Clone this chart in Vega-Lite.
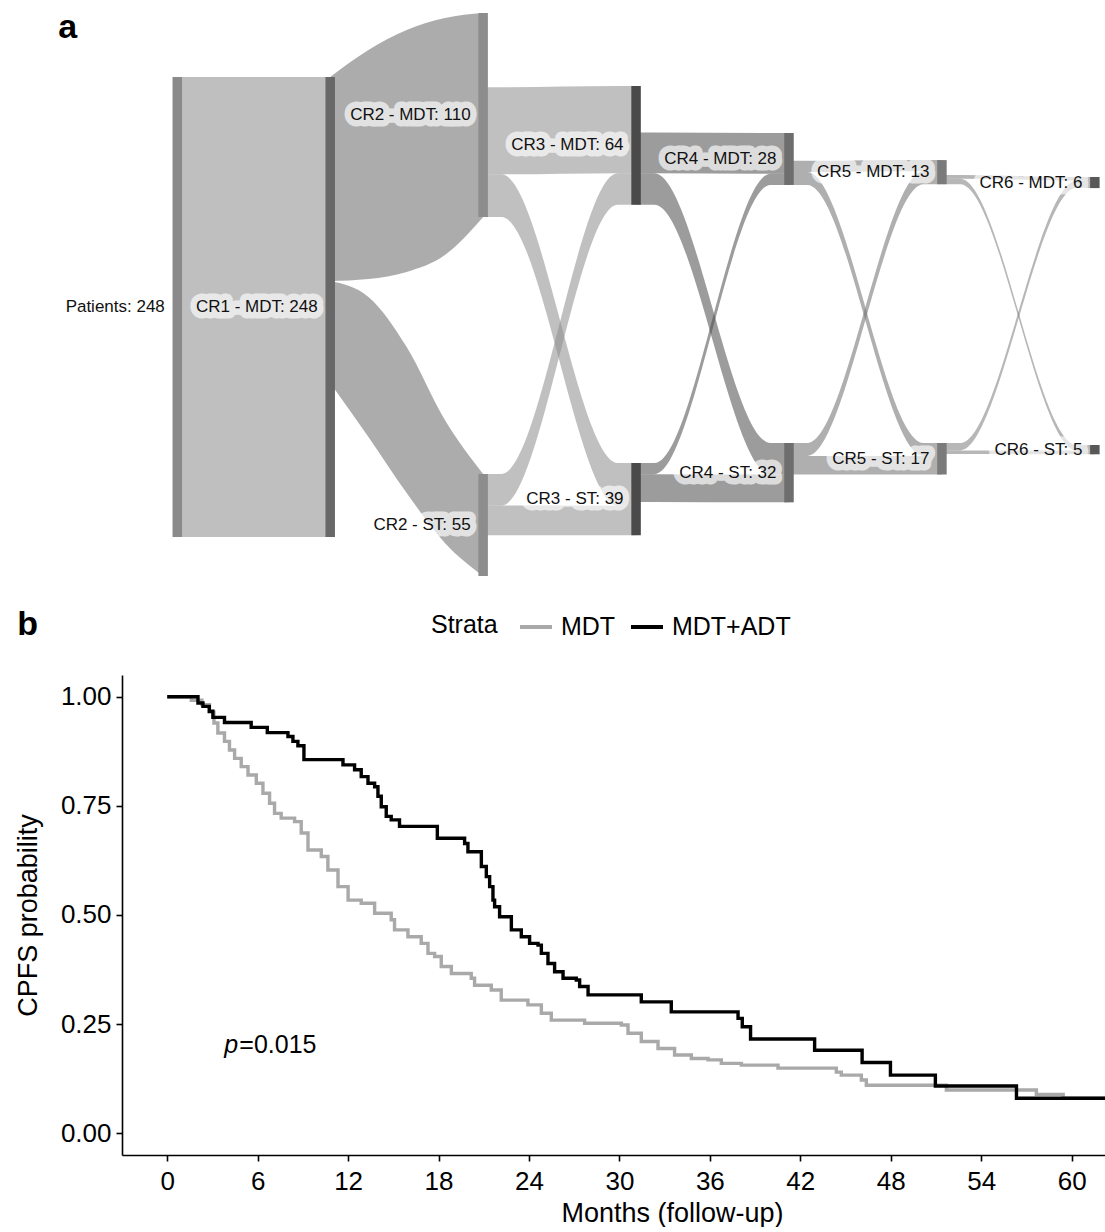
{
"$schema":"https://vega.github.io/schema/vega-lite/v6.json",
"background":"white",
"padding":{"left":14,"top":0,"right":0,"bottom":0},
"bounds":"flush",
"spacing":75,
"resolve":{"scale":{"color":"independent"},"legend":{"color":"independent"}},
"config":{"view":{"stroke":null},"font":"Liberation Sans"},
"datasets":{
"nodes":[
{"node":"Patients","stg":"Patients","stage":0,"top":41.5,"bottom":289.5,"mid":165.5,"label":"Patients: 248"},
{"node":"CR1 - MDT","stg":"CR1","stage":1,"top":41.5,"bottom":289.5,"mid":165.5,"label":"CR1 - MDT: 248"},
{"node":"CR2 - MDT","stg":"CR2","stage":2,"top":7.0,"bottom":117.0,"mid":62.0,"label":"CR2 - MDT: 110"},
{"node":"CR2 - ST","stg":"CR2","stage":2,"top":255.5,"bottom":310.5,"mid":283.0,"label":"CR2 - ST: 55"},
{"node":"CR3 - MDT","stg":"CR3","stage":3,"top":46.4,"bottom":110.4,"mid":78.4,"label":"CR3 - MDT: 64"},
{"node":"CR3 - ST","stg":"CR3","stage":3,"top":249.6,"bottom":288.6,"mid":269.1,"label":"CR3 - ST: 39"},
{"node":"CR4 - MDT","stg":"CR4","stage":4,"top":71.7,"bottom":99.7,"mid":85.7,"label":"CR4 - MDT: 28"},
{"node":"CR4 - ST","stg":"CR4","stage":4,"top":238.8,"bottom":270.8,"mid":254.8,"label":"CR4 - ST: 32"},
{"node":"CR5 - MDT","stg":"CR5","stage":5,"top":86.3,"bottom":99.3,"mid":92.8,"label":"CR5 - MDT: 13"},
{"node":"CR5 - ST","stg":"CR5","stage":5,"top":238.8,"bottom":255.8,"mid":247.3,"label":"CR5 - ST: 17"},
{"node":"CR6 - MDT","stg":"CR6","stage":6,"top":95.4,"bottom":101.4,"mid":98.4,"label":"CR6 - MDT: 6"},
{"node":"CR6 - ST","stg":"CR6","stage":6,"top":239.9,"bottom":244.9,"mid":242.4,"label":"CR6 - ST: 5"}
],
"flows":[
{"flow":"P>CR1","stg":"Patients","stage":0,"top":41.5,"bottom":289.5},
{"flow":"P>CR1","stg":"Patients","stage":1,"top":41.5,"bottom":289.5},
{"flow":"CR1>CR2MDT","stg":"CR1","stage":1,"top":41.5,"bottom":151.5},
{"flow":"CR1>CR2MDT","stg":"CR1","stage":1.25,"top":27.0,"bottom":150.4},
{"flow":"CR1>CR2MDT","stg":"CR1","stage":1.5,"top":16.2,"bottom":146.6},
{"flow":"CR1>CR2MDT","stg":"CR1","stage":1.75,"top":9.7,"bottom":137.5},
{"flow":"CR1>CR2MDT","stg":"CR1","stage":2,"top":7.0,"bottom":117.0},
{"flow":"CR1>CR2ST","stg":"CR1","stage":1,"top":151.5,"bottom":206.5},
{"flow":"CR1>CR2ST","stg":"CR1","stage":1.25,"top":160.1,"bottom":235.6},
{"flow":"CR1>CR2ST","stg":"CR1","stage":1.5,"top":187.1,"bottom":265.8},
{"flow":"CR1>CR2ST","stg":"CR1","stage":1.75,"top":226.4,"bottom":292.7},
{"flow":"CR1>CR2ST","stg":"CR1","stage":2,"top":255.5,"bottom":310.5},
{"flow":"CR2MDT>CR3MDT","stg":"CR2","stage":2,"top":47.0,"bottom":94.0},
{"flow":"CR2MDT>CR3MDT","stg":"CR2","stage":2.12,"top":47.0,"bottom":94.0},
{"flow":"CR2MDT>CR3MDT","stg":"CR2","stage":2.88,"top":46.4,"bottom":93.4},
{"flow":"CR2MDT>CR3MDT","stg":"CR2","stage":3,"top":46.4,"bottom":93.4},
{"flow":"CR2MDT>CR3ST","stg":"CR2","stage":2,"top":94.0,"bottom":117.0},
{"flow":"CR2MDT>CR3ST","stg":"CR2","stage":2.12,"top":94.0,"bottom":117.0},
{"flow":"CR2MDT>CR3ST","stg":"CR2","stage":2.88,"top":249.6,"bottom":272.6},
{"flow":"CR2MDT>CR3ST","stg":"CR2","stage":3,"top":249.6,"bottom":272.6},
{"flow":"CR2ST>CR3MDT","stg":"CR2","stage":2,"top":255.5,"bottom":272.5},
{"flow":"CR2ST>CR3MDT","stg":"CR2","stage":2.12,"top":255.5,"bottom":272.5},
{"flow":"CR2ST>CR3MDT","stg":"CR2","stage":2.88,"top":93.4,"bottom":110.4},
{"flow":"CR2ST>CR3MDT","stg":"CR2","stage":3,"top":93.4,"bottom":110.4},
{"flow":"CR2ST>CR3ST","stg":"CR2","stage":2,"top":272.5,"bottom":288.5},
{"flow":"CR2ST>CR3ST","stg":"CR2","stage":2.12,"top":272.5,"bottom":288.5},
{"flow":"CR2ST>CR3ST","stg":"CR2","stage":2.88,"top":272.6,"bottom":288.6},
{"flow":"CR2ST>CR3ST","stg":"CR2","stage":3,"top":272.6,"bottom":288.6},
{"flow":"CR3MDT>CR4MDT","stg":"CR3","stage":3,"top":71.4,"bottom":93.4},
{"flow":"CR3MDT>CR4MDT","stg":"CR3","stage":3.12,"top":71.4,"bottom":93.4},
{"flow":"CR3MDT>CR4MDT","stg":"CR3","stage":3.88,"top":71.7,"bottom":93.7},
{"flow":"CR3MDT>CR4MDT","stg":"CR3","stage":4,"top":71.7,"bottom":93.7},
{"flow":"CR3MDT>CR4ST","stg":"CR3","stage":3,"top":93.4,"bottom":110.4},
{"flow":"CR3MDT>CR4ST","stg":"CR3","stage":3.12,"top":93.4,"bottom":110.4},
{"flow":"CR3MDT>CR4ST","stg":"CR3","stage":3.88,"top":238.8,"bottom":255.8},
{"flow":"CR3MDT>CR4ST","stg":"CR3","stage":4,"top":238.8,"bottom":255.8},
{"flow":"CR3ST>CR4MDT","stg":"CR3","stage":3,"top":249.6,"bottom":255.6},
{"flow":"CR3ST>CR4MDT","stg":"CR3","stage":3.12,"top":249.6,"bottom":255.6},
{"flow":"CR3ST>CR4MDT","stg":"CR3","stage":3.88,"top":93.7,"bottom":99.7},
{"flow":"CR3ST>CR4MDT","stg":"CR3","stage":4,"top":93.7,"bottom":99.7},
{"flow":"CR3ST>CR4ST","stg":"CR3","stage":3,"top":255.6,"bottom":270.6},
{"flow":"CR3ST>CR4ST","stg":"CR3","stage":3.12,"top":255.6,"bottom":270.6},
{"flow":"CR3ST>CR4ST","stg":"CR3","stage":3.88,"top":255.8,"bottom":270.8},
{"flow":"CR3ST>CR4ST","stg":"CR3","stage":4,"top":255.8,"bottom":270.8},
{"flow":"CR4MDT>CR5MDT","stg":"CR4","stage":4,"top":86.7,"bottom":92.7},
{"flow":"CR4MDT>CR5MDT","stg":"CR4","stage":4.12,"top":86.7,"bottom":92.7},
{"flow":"CR4MDT>CR5MDT","stg":"CR4","stage":4.88,"top":86.3,"bottom":92.3},
{"flow":"CR4MDT>CR5MDT","stg":"CR4","stage":5,"top":86.3,"bottom":92.3},
{"flow":"CR4MDT>CR5ST","stg":"CR4","stage":4,"top":92.7,"bottom":99.7},
{"flow":"CR4MDT>CR5ST","stg":"CR4","stage":4.12,"top":92.7,"bottom":99.7},
{"flow":"CR4MDT>CR5ST","stg":"CR4","stage":4.88,"top":238.8,"bottom":245.8},
{"flow":"CR4MDT>CR5ST","stg":"CR4","stage":5,"top":238.8,"bottom":245.8},
{"flow":"CR4ST>CR5MDT","stg":"CR4","stage":4,"top":238.8,"bottom":245.8},
{"flow":"CR4ST>CR5MDT","stg":"CR4","stage":4.12,"top":238.8,"bottom":245.8},
{"flow":"CR4ST>CR5MDT","stg":"CR4","stage":4.88,"top":92.3,"bottom":99.3},
{"flow":"CR4ST>CR5MDT","stg":"CR4","stage":5,"top":92.3,"bottom":99.3},
{"flow":"CR4ST>CR5ST","stg":"CR4","stage":4,"top":245.8,"bottom":255.8},
{"flow":"CR4ST>CR5ST","stg":"CR4","stage":4.12,"top":245.8,"bottom":255.8},
{"flow":"CR4ST>CR5ST","stg":"CR4","stage":4.88,"top":245.8,"bottom":255.8},
{"flow":"CR4ST>CR5ST","stg":"CR4","stage":5,"top":245.8,"bottom":255.8},
{"flow":"CR5MDT>CR6MDT","stg":"CR5","stage":5,"top":94.3,"bottom":96.3},
{"flow":"CR5MDT>CR6MDT","stg":"CR5","stage":5.12,"top":94.3,"bottom":96.3},
{"flow":"CR5MDT>CR6MDT","stg":"CR5","stage":5.88,"top":95.4,"bottom":97.4},
{"flow":"CR5MDT>CR6MDT","stg":"CR5","stage":6,"top":95.4,"bottom":97.4},
{"flow":"CR5MDT>CR6ST","stg":"CR5","stage":5,"top":96.3,"bottom":99.3},
{"flow":"CR5MDT>CR6ST","stg":"CR5","stage":5.12,"top":96.3,"bottom":99.3},
{"flow":"CR5MDT>CR6ST","stg":"CR5","stage":5.88,"top":239.9,"bottom":242.9},
{"flow":"CR5MDT>CR6ST","stg":"CR5","stage":6,"top":239.9,"bottom":242.9},
{"flow":"CR5ST>CR6MDT","stg":"CR5","stage":5,"top":238.8,"bottom":242.8},
{"flow":"CR5ST>CR6MDT","stg":"CR5","stage":5.12,"top":238.8,"bottom":242.8},
{"flow":"CR5ST>CR6MDT","stg":"CR5","stage":5.88,"top":97.4,"bottom":101.4},
{"flow":"CR5ST>CR6MDT","stg":"CR5","stage":6,"top":97.4,"bottom":101.4},
{"flow":"CR5ST>CR6ST","stg":"CR5","stage":5,"top":242.8,"bottom":244.8},
{"flow":"CR5ST>CR6ST","stg":"CR5","stage":5.12,"top":242.8,"bottom":244.8},
{"flow":"CR5ST>CR6ST","stg":"CR5","stage":5.88,"top":242.9,"bottom":244.9},
{"flow":"CR5ST>CR6ST","stg":"CR5","stage":6,"top":242.9,"bottom":244.9}
],
"km":[
{"strata":"MDT","month":0,"surv":1.0},
{"strata":"MDT","month":1.6,"surv":0.992},
{"strata":"MDT","month":2.3,"surv":0.982},
{"strata":"MDT","month":2.8,"surv":0.965},
{"strata":"MDT","month":3.1,"surv":0.94},
{"strata":"MDT","month":3.36,"surv":0.917},
{"strata":"MDT","month":3.8,"surv":0.898},
{"strata":"MDT","month":4.13,"surv":0.878},
{"strata":"MDT","month":4.47,"surv":0.859},
{"strata":"MDT","month":4.91,"surv":0.84},
{"strata":"MDT","month":5.36,"surv":0.821},
{"strata":"MDT","month":5.91,"surv":0.802},
{"strata":"MDT","month":6.35,"surv":0.779},
{"strata":"MDT","month":6.79,"surv":0.756},
{"strata":"MDT","month":7.12,"surv":0.733},
{"strata":"MDT","month":7.56,"surv":0.722},
{"strata":"MDT","month":8.45,"surv":0.714},
{"strata":"MDT","month":8.89,"surv":0.688},
{"strata":"MDT","month":9.34,"surv":0.649},
{"strata":"MDT","month":10.22,"surv":0.634},
{"strata":"MDT","month":10.66,"surv":0.603},
{"strata":"MDT","month":11.33,"surv":0.565},
{"strata":"MDT","month":12.0,"surv":0.534},
{"strata":"MDT","month":12.87,"surv":0.527},
{"strata":"MDT","month":13.76,"surv":0.504},
{"strata":"MDT","month":14.86,"surv":0.489},
{"strata":"MDT","month":15.08,"surv":0.466},
{"strata":"MDT","month":15.97,"surv":0.45},
{"strata":"MDT","month":16.85,"surv":0.435},
{"strata":"MDT","month":17.3,"surv":0.412},
{"strata":"MDT","month":17.74,"surv":0.405},
{"strata":"MDT","month":18.18,"surv":0.382},
{"strata":"MDT","month":18.85,"surv":0.366},
{"strata":"MDT","month":20.17,"surv":0.355},
{"strata":"MDT","month":20.39,"surv":0.339},
{"strata":"MDT","month":21.5,"surv":0.328},
{"strata":"MDT","month":22.16,"surv":0.305},
{"strata":"MDT","month":23.93,"surv":0.294},
{"strata":"MDT","month":24.82,"surv":0.275},
{"strata":"MDT","month":25.48,"surv":0.259},
{"strata":"MDT","month":27.69,"surv":0.252},
{"strata":"MDT","month":30.13,"surv":0.248},
{"strata":"MDT","month":30.57,"surv":0.229},
{"strata":"MDT","month":31.45,"surv":0.21},
{"strata":"MDT","month":32.56,"surv":0.194},
{"strata":"MDT","month":33.66,"surv":0.179},
{"strata":"MDT","month":34.77,"surv":0.171},
{"strata":"MDT","month":35.88,"surv":0.168},
{"strata":"MDT","month":36.76,"surv":0.16},
{"strata":"MDT","month":38.09,"surv":0.156},
{"strata":"MDT","month":40.52,"surv":0.149},
{"strata":"MDT","month":44.39,"surv":0.14},
{"strata":"MDT","month":44.72,"surv":0.133},
{"strata":"MDT","month":46.05,"surv":0.122},
{"strata":"MDT","month":46.38,"surv":0.11},
{"strata":"MDT","month":51.69,"surv":0.099},
{"strata":"MDT","month":57.66,"surv":0.089},
{"strata":"MDT","month":59.44,"surv":0.08},
{"strata":"MDT","month":62.3,"surv":0.08},
{"strata":"MDT+ADT","month":0,"surv":1.0},
{"strata":"MDT+ADT","month":2.04,"surv":0.986},
{"strata":"MDT+ADT","month":2.37,"surv":0.978},
{"strata":"MDT+ADT","month":2.79,"surv":0.967},
{"strata":"MDT+ADT","month":3.03,"surv":0.953},
{"strata":"MDT+ADT","month":3.8,"surv":0.941},
{"strata":"MDT+ADT","month":5.57,"surv":0.93},
{"strata":"MDT+ADT","month":6.64,"surv":0.918},
{"strata":"MDT+ADT","month":8.01,"surv":0.909},
{"strata":"MDT+ADT","month":8.34,"surv":0.898},
{"strata":"MDT+ADT","month":8.67,"surv":0.888},
{"strata":"MDT+ADT","month":9.07,"surv":0.856},
{"strata":"MDT+ADT","month":11.66,"surv":0.844},
{"strata":"MDT+ADT","month":12.43,"surv":0.833},
{"strata":"MDT+ADT","month":12.87,"surv":0.817},
{"strata":"MDT+ADT","month":13.32,"surv":0.802},
{"strata":"MDT+ADT","month":13.76,"surv":0.794},
{"strata":"MDT+ADT","month":13.98,"surv":0.772},
{"strata":"MDT+ADT","month":14.2,"surv":0.748},
{"strata":"MDT+ADT","month":14.53,"surv":0.726},
{"strata":"MDT+ADT","month":14.86,"surv":0.718},
{"strata":"MDT+ADT","month":15.41,"surv":0.703},
{"strata":"MDT+ADT","month":17.92,"surv":0.676},
{"strata":"MDT+ADT","month":19.73,"surv":0.664},
{"strata":"MDT+ADT","month":19.95,"surv":0.645},
{"strata":"MDT+ADT","month":20.84,"surv":0.611},
{"strata":"MDT+ADT","month":21.17,"surv":0.588},
{"strata":"MDT+ADT","month":21.39,"surv":0.565},
{"strata":"MDT+ADT","month":21.61,"surv":0.534},
{"strata":"MDT+ADT","month":21.72,"surv":0.519},
{"strata":"MDT+ADT","month":22.05,"surv":0.496},
{"strata":"MDT+ADT","month":22.83,"surv":0.466},
{"strata":"MDT+ADT","month":23.49,"surv":0.45},
{"strata":"MDT+ADT","month":24.04,"surv":0.435},
{"strata":"MDT+ADT","month":24.6,"surv":0.431},
{"strata":"MDT+ADT","month":24.82,"surv":0.412},
{"strata":"MDT+ADT","month":25.26,"surv":0.389},
{"strata":"MDT+ADT","month":25.7,"surv":0.37},
{"strata":"MDT+ADT","month":26.26,"surv":0.355},
{"strata":"MDT+ADT","month":27.14,"surv":0.351},
{"strata":"MDT+ADT","month":27.36,"surv":0.336},
{"strata":"MDT+ADT","month":27.92,"surv":0.317},
{"strata":"MDT+ADT","month":31.45,"surv":0.301},
{"strata":"MDT+ADT","month":33.44,"surv":0.278},
{"strata":"MDT+ADT","month":37.87,"surv":0.263},
{"strata":"MDT+ADT","month":38.15,"surv":0.244},
{"strata":"MDT+ADT","month":38.7,"surv":0.216},
{"strata":"MDT+ADT","month":42.95,"surv":0.19},
{"strata":"MDT+ADT","month":46.1,"surv":0.162},
{"strata":"MDT+ADT","month":47.98,"surv":0.133},
{"strata":"MDT+ADT","month":50.96,"surv":0.108},
{"strata":"MDT+ADT","month":56.34,"surv":0.08},
{"strata":"MDT+ADT","month":62.3,"surv":0.08}
]
},
"vconcat":[
{
"width":984.3,"height":600,
"layer":[
{"data":{"name":"flows"},
"mark":{"type":"area","interpolate":"monotone","fillOpacity":0.55},
"encoding":{
"x":{"field":"stage","type":"quantitative","scale":{"domain":[-0.3288,6.0421],"nice":false,"zero":false},"axis":null},
"y":{"field":"top","type":"quantitative","scale":{"domain":[0,323.45],"reverse":true,"nice":false,"zero":false},"axis":null,"stack":null},
"y2":{"field":"bottom"},
"detail":{"field":"flow","type":"nominal"},
"color":{"field":"stg","type":"nominal","scale":{"domain":["Patients","CR1","CR2","CR3","CR4","CR5","CR6"],"range":["#8a8a8a","#686868","#8d8d8d","#4a4a4a","#6e6e6e","#7b7b7b","#585858"]},"legend":null}
}},
{"data":{"name":"nodes"},
"mark":{"type":"bar","width":9.5},
"encoding":{
"x":{"field":"stage","type":"quantitative","scale":{"domain":[-0.3288,6.0421],"nice":false,"zero":false},"axis":null},
"y":{"field":"top","type":"quantitative","scale":{"domain":[0,323.45],"reverse":true,"nice":false,"zero":false},"axis":null,"stack":null},
"y2":{"field":"bottom"},
"color":{"field":"stg","type":"nominal","scale":{"domain":["Patients","CR1","CR2","CR3","CR4","CR5","CR6"],"range":["#8a8a8a","#686868","#8d8d8d","#4a4a4a","#6e6e6e","#7b7b7b","#585858"]},"legend":null}
}},
{"data":{"name":"nodes"},
"mark":{"type":"text","align":"right","baseline":"middle","dx":-12.5,"fontSize":17,"font":"Liberation Sans","fill":"white","stroke":"white","strokeWidth":13,"strokeJoin":"round","opacity":0.65},
"encoding":{
"x":{"field":"stage","type":"quantitative","scale":{"domain":[-0.3288,6.0421],"nice":false,"zero":false},"axis":null},
"y":{"field":"mid","type":"quantitative","scale":{"domain":[0,323.45],"reverse":true,"nice":false,"zero":false},"axis":null},
"text":{"field":"label"}
}},
{"data":{"name":"nodes"},
"mark":{"type":"text","align":"right","baseline":"middle","dx":-12.5,"fontSize":17,"font":"Liberation Sans","color":"#111111"},
"encoding":{
"x":{"field":"stage","type":"quantitative","scale":{"domain":[-0.3288,6.0421],"nice":false,"zero":false},"axis":null},
"y":{"field":"mid","type":"quantitative","scale":{"domain":[0,323.45],"reverse":true,"nice":false,"zero":false},"axis":null},
"text":{"field":"label"}
}},
{"data":{"values":[{"stage":-0.778,"mid":20.5,"txt":"a"}]},
"mark":{"type":"text","align":"left","baseline":"alphabetic","fontSize":34,"fontWeight":"bold","font":"Liberation Sans","color":"black"},
"encoding":{
"x":{"field":"stage","type":"quantitative","scale":{"domain":[-0.3288,6.0421],"nice":false,"zero":false},"axis":null},
"y":{"field":"mid","type":"quantitative","scale":{"domain":[0,323.45],"reverse":true,"nice":false,"zero":false},"axis":null},
"text":{"field":"txt"}
}}
]
},
{
"width":984.3,"height":480,
"encoding":{
"x":{"field":"month","type":"quantitative","scale":{"domain":[-3.0,62.3],"nice":false,"zero":false},
"axis":{"values":[0,6,12,18,24,30,36,42,48,54,60],"title":"Months (follow-up)","grid":false,"domainColor":"black","domainWidth":1.6,"tickColor":"black","tickWidth":1.6,"tickSize":6,"labelFontSize":26,"labelFont":"Liberation Sans","labelColor":"black","labelPadding":8,"labelFlush":false,"labelOverlap":false,"titleFont":"Liberation Sans","titleFontSize":27,"titleFontWeight":"normal","titleColor":"black","titlePadding":6,"titleX":550}},
"y":{"field":"surv","type":"quantitative","scale":{"domain":[-0.05,1.05],"nice":false,"zero":false},
"axis":{"values":[0,0.25,0.5,0.75,1],"format":".2f","title":"CPFS probability","grid":false,"domainColor":"black","domainWidth":1.6,"tickColor":"black","tickWidth":1.6,"tickSize":6,"labelFontSize":26,"labelFont":"Liberation Sans","labelColor":"black","labelPadding":5,"labelFlush":false,"labelOverlap":false,"titleFont":"Liberation Sans","titleFontSize":27,"titleFontWeight":"normal","titleColor":"black","titlePadding":18}}
},
"layer":[
{"data":{"name":"km"},
"mark":{"type":"line","interpolate":"step-after","strokeWidth":3.4},
"encoding":{
"color":{"field":"strata","type":"nominal","scale":{"domain":["MDT","MDT+ADT"],"range":["#a9a9a9","#000000"]},
"legend":{"title":"Strata","orient":"none","legendX":309,"legendY":-66,"direction":"horizontal","titleOrient":"left","symbolType":"stroke","symbolSize":1024,"symbolStrokeWidth":4,"labelFontSize":25,"titleFontSize":25,"titleFontWeight":"normal","titleColor":"black","labelColor":"black","labelFont":"Liberation Sans","titleFont":"Liberation Sans","labelOffset":7,"columnPadding":7,"titlePadding":20,"padding":0}}
}},
{"data":{"values":[{"month":3.79,"surv":0.203,"txt":"p"}]},
"mark":{"type":"text","align":"left","baseline":"middle","fontSize":25,"fontStyle":"italic","font":"Liberation Sans","color":"black"},
"encoding":{"text":{"field":"txt"}}},
{"data":{"values":[{"month":3.79,"surv":0.203,"txt":"=0.015"}]},
"mark":{"type":"text","align":"left","baseline":"middle","fontSize":25,"dx":15,"font":"Liberation Sans","color":"black"},
"encoding":{"text":{"field":"txt"}}},
{"data":{"values":[{"month":-9.95,"surv":1.1427,"txt":"b"}]},
"mark":{"type":"text","align":"left","baseline":"alphabetic","fontSize":34,"fontWeight":"bold","font":"Liberation Sans","color":"black"},
"encoding":{"text":{"field":"txt"}}}
]
}
]
}
